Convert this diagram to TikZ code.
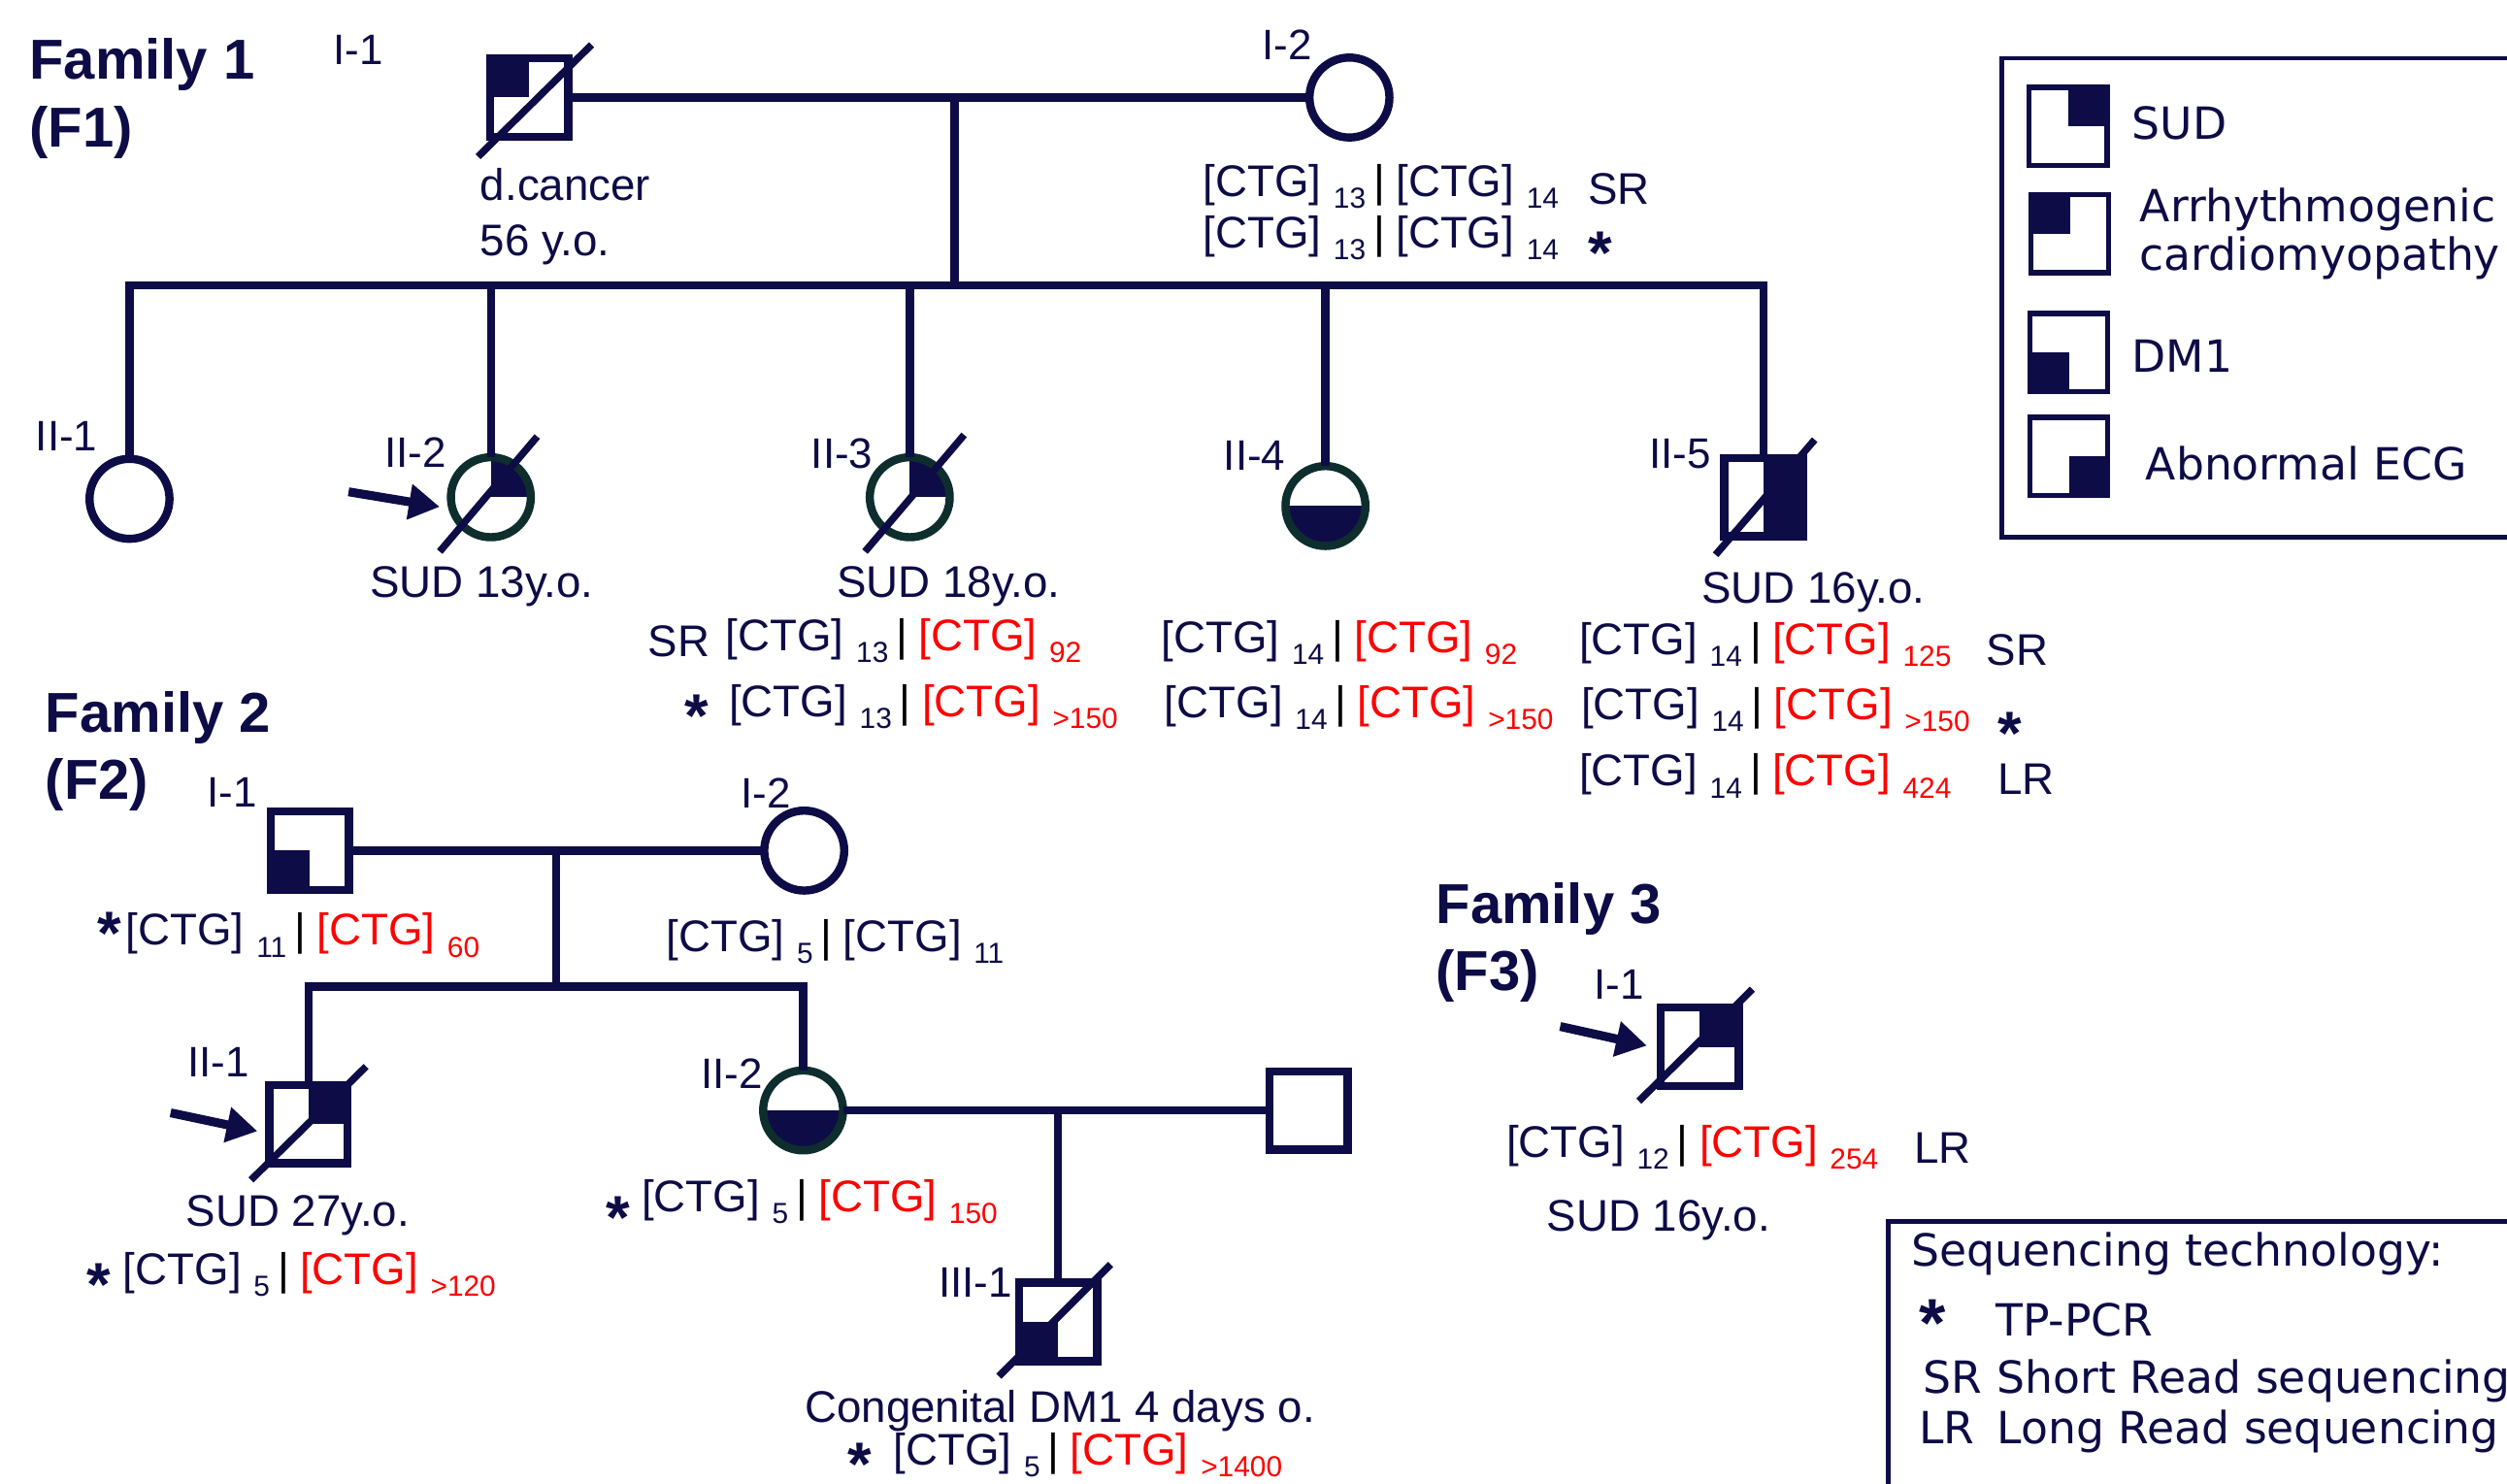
\documentclass[tikz,border=0pt]{standalone}
\usepackage{fontspec}
\setmainfont{Liberation Sans}
\newfontfamily\dvfont{DejaVu Sans}
\usetikzlibrary{arrows.meta,backgrounds}
\definecolor{navy}{RGB}{14,12,70}
\definecolor{tealdk}{RGB}{14,46,46}
\definecolor{ctgred}{RGB}{255,0,0}
\newcommand\sbx[1]{\raisebox{-3.5pt}{\fontsize{8.5}{9}\selectfont #1}}
\newcommand\ctg[1]{[CTG]\hspace{3.6pt}\sbx{#1}}
\newcommand\pairg[2]{\ctg{#1}\hspace{2.3pt}{\color{black}|}\hspace{3.2pt}{\color{ctgred}\ctg{#2}}}
\newcommand\pairn[2]{\ctg{#1}\hspace{2.3pt}{\color{black}|}\hspace{3.2pt}\ctg{#2}}
\newcommand\astx{\raisebox{-6.9pt}[5.2pt][0pt]{*}}
\newcommand\cq[3]{\begin{scope}\clip (#1.center) circle[radius=0.412cm];\fill[navy] (#2) rectangle (#3);\end{scope}}
\tikzset{
 ln/.style={draw=navy, line width=2.4pt},
 sq/.style={rectangle, draw=navy, line width=2.4pt, minimum size=0.807cm, inner sep=0pt, outer sep=0pt},
 ci/.style={circle, draw=navy, line width=2.4pt, minimum size=0.824cm, inner sep=0pt, outer sep=0pt},
 cit/.style={ci, draw=tealdk},
 lsq/.style={sq, line width=1.5pt, minimum size=0.804cm},
 dec/.style={draw=navy, line width=2.1pt},
 arr/.style={draw=navy, line width=2.6pt, -{Triangle[length=9pt,width=10pt]}},
 lbl/.style={anchor=base west, inner sep=0pt, text=navy, font=\fontsize{12.5}{14}\selectfont},
 txt/.style={anchor=base west, inner sep=0pt, text=navy, font=\fontsize{13}{15}\selectfont},
 fam/.style={anchor=base west, inner sep=0pt, text=navy, font=\fontsize{16.5}{19}\selectfont\bfseries},
 leg/.style={anchor=base west, inner sep=0pt, text=navy, font=\dvfont\fontsize{13}{15}\selectfont},
 star/.style={anchor=center, inner sep=0pt, text=navy, font=\fontsize{18}{18}\selectfont\bfseries},
 bigstar/.style={star, font=\fontsize{20}{20}\selectfont\bfseries},
 lbox/.style={draw=navy, line width=1.4pt},
}
\begin{document}
\begin{tikzpicture}[x=0.016473cm,y=-0.016473cm]
\useasboundingbox (0,0) rectangle (1568,927.6);
\clip (0,0) rectangle (1568,927.6);

% ---------------- Family 1 ----------------
\node[fam] (t1a) at (18,49.2) {Family 1};
\node[fam] (t1b) at (18,92) {(F1)};
\node[sq] (f1i1) at (331,61) {};
\node[ci] (f1i2) at (844,61) {};
\node[ci] (f1ii1) at (81,312) {};
\node[cit] (f1ii2) at (307,311) {};
\node[cit] (f1ii3) at (569,311) {};
\node[cit] (f1ii4) at (829,316.5) {};
\node[sq] (f1ii5) at (1103,311) {};
\coordinate (f1m) at (597,61);
\coordinate (f1s) at (597,178.5);
\draw[ln] (f1i1) -- (f1i2);
\draw[ln] (f1m) -- (f1s);
\draw[ln] (f1ii1) -- (f1ii1 |- f1s) -- (f1ii5 |- f1s) -- (f1ii5);
\draw[ln] (f1ii2 |- f1s) -- (f1ii2);
\draw[ln] (f1ii3 |- f1s) -- (f1ii3);
\draw[ln] (f1ii4 |- f1s) -- (f1ii4);
\draw[dec] ([shift={(-32,37)}]f1i1.center) -- ([shift={(39,-33)}]f1i1.center);
\draw[dec] ([shift={(-32,34)}]f1ii2.center) -- ([shift={(29,-38)}]f1ii2.center);
\draw[dec] ([shift={(-28,34)}]f1ii3.center) -- ([shift={(34,-39)}]f1ii3.center);
\draw[dec] ([shift={(-30,36)}]f1ii5.center) -- ([shift={(32,-36)}]f1ii5.center);
\coordinate (a1s) at (218,307.6);
\coordinate (a1e) at (275,317);
\draw[arr] (a1s) -- (a1e);

\node[lbl] (l1) at (208,40.5) {I-1};
\node[lbl] (l2) at (789,37.4) {I-2};
\node[lbl] (l3) at (22,281.7) {II-1};
\node[lbl] (l4) at (240,292.4) {II-2};
\node[lbl] (l5) at (507,292.6) {II-3};
\node[lbl] (l6) at (765,294.4) {II-4};
\node[lbl] (l7) at (1031,293) {II-5};

\node[txt] (dc1) at (300,125.5) {d.cancer};
\node[txt] (dc2) at (300,160) {56 y.o.};
\node[txt] (g12a) at (752,122.7) {\pairn{13}{14}};
\node[txt] (g12b) at (992.8,127.9) {SR};
\node[txt] (g12c) at (752,155.2) {\pairn{13}{14}};
\node[star] (s1) at (1000.7,151.2) {\astx};

\node[txt] (sud2) at (231,373.5) {SUD 13y.o.};
\node[txt] (sud3) at (523,373.5) {SUD 18y.o.};
\node[txt] (sud5) at (1064,377) {SUD 16y.o.};
\node[txt] (sr3) at (405,410.8) {SR};
\node[txt] (g3a) at (453.5,407) {\pairg{13}{92}};
\node[star] (s3) at (435.5,441) {\astx};
\node[txt] (g3b) at (455.6,448.2) {\pairg{13}{>150}};
\node[txt] (g4a) at (726,408) {\pairg{14}{92}};
\node[txt] (g4b) at (728,449) {\pairg{14}{>150}};
\node[txt] (g5a) at (987.4,409.2) {\pairg{14}{125}};
\node[txt] (sr5) at (1242,416) {SR};
\node[txt] (g5b) at (988.5,450) {\pairg{14}{>150}};
\node[star] (s5) at (1257,451.5) {\astx};
\node[txt] (g5c) at (987.4,491.7) {\pairg{14}{424}};
\node[txt] (lr5) at (1249,496.6) {LR};

% ---------------- Family 2 ----------------
\node[fam] (t2a) at (28,458) {Family 2};
\node[fam] (t2b) at (28,499.7) {(F2)};
\node[sq] (f2i1) at (193.7,532) {};
\node[ci] (f2i2) at (503,532) {};
\coordinate (f2m) at (348,532);
\coordinate (f2s) at (348,617);
\node[sq] (f2ii1) at (193,703) {};
\node[cit] (f2ii2) at (502.3,694.5) {};
\node[sq] (f2sp) at (818.4,694.5) {};
\coordinate (f2m2) at (661.7,694.5);
\node[sq] (f2iii1) at (661.7,826.8) {};
\draw[ln] (f2i1) -- (f2i2);
\draw[ln] (f2m) -- (f2s);
\draw[ln] (f2ii1) -- (f2ii1 |- f2s) -- (f2ii2 |- f2s) -- (f2ii2);
\draw[ln] (f2ii2) -- (f2sp);
\draw[ln] (f2m2) -- (f2iii1);
\draw[dec] ([shift={(-36,35)}]f2ii1.center) -- ([shift={(36,-36)}]f2ii1.center);
\draw[dec] ([shift={(-37,34)}]f2iii1.center) -- ([shift={(33,-36)}]f2iii1.center);
\coordinate (a2s) at (106.7,696);
\coordinate (a2e) at (161,707.5);
\draw[arr] (a2s) -- (a2e);

\node[lbl] (m1) at (129,505) {I-1};
\node[lbl] (m2) at (463,505.6) {I-2};
\node[lbl] (m3) at (116.8,673.8) {II-1};
\node[lbl] (m4) at (438,681) {II-2};
\node[lbl] (m5) at (586.8,811.4) {III-1};

\node[star] (s21) at (68.3,577) {\astx};
\node[txt] (h1) at (78.4,591.1) {\pairg{11}{60}};
\node[txt] (h2) at (416.4,595.2) {\pairn{5}{11}};
\node[txt] (sud21) at (116,767) {SUD 27y.o.};
\node[star] (s22) at (61.7,796.6) {\astx};
\node[txt] (h3) at (76.6,803.2) {\pairg{5}{>120}};
\node[star] (s23) at (386.8,754.8) {\astx};
\node[txt] (h4) at (401,758) {\pairg{5}{150}};
\node[txt] (cg) at (503,889.4) {Congenital DM1 4 days o.};
\node[star] (s24) at (537.6,909) {\astx};
\node[txt] (h5) at (558.4,916.2) {\pairg{5}{>1400}};

% ---------------- Family 3 ----------------
\node[fam] (t3a) at (897.8,577.7) {Family 3};
\node[fam] (t3b) at (897.8,619.7) {(F3)};
\node[sq] (f3i1) at (1063,654.7) {};
\draw[dec] ([shift={(-38,34)}]f3i1.center) -- ([shift={(33,-36)}]f3i1.center);
\coordinate (a3s) at (975.8,642);
\coordinate (a3e) at (1030,654);
\draw[arr] (a3s) -- (a3e);
\node[lbl] (n1) at (996.5,625) {I-1};
\node[txt] (k1) at (941.8,723.9) {\pairg{12}{254}};
\node[txt] (k2) at (1197,727.3) {LR};
\node[txt] (k3) at (967,770) {SUD 16y.o.};

% ---------------- Legends ----------------
\draw[lbox] (1252,36.4) rectangle (1620,336);
\node[lsq] (lg1) at (1293.4,79.1) {};
\node[lsq] (lg2) at (1294.6,146.2) {};
\node[lsq] (lg3) at (1294,220.4) {};
\node[lsq] (lg4) at (1294,285.5) {};
\node[leg] (lt1) at (1333,87) {SUD};
\node[leg] (lt2) at (1338,138.6) {Arrhythmogenic};
\node[leg] (lt3) at (1338,169) {cardiomyopathy};
\node[leg] (lt4) at (1333,233) {DM1};
\node[leg] (lt5) at (1341.6,300) {Abnormal ECG};

\draw[lbox] (1181,764) rectangle (1620,990);
\node[leg] (st0) at (1195,791.6) {Sequencing technology:};
\node[bigstar] (st1) at (1209,822.3) {\astx};
\node[leg] (st2) at (1247.8,835.7) {TP-PCR};
\node[leg] (st3) at (1202.6,871.6) {SR};
\node[leg] (st4) at (1248.7,871.6) {Short Read sequencing};
\node[leg] (st5) at (1200,903) {LR};
\node[leg] (st6) at (1248.7,903) {Long Read sequencing};

% ---------------- Fills (behind borders) ----------------
\begin{scope}[on background layer]
\fill[navy] (f1i1.center) rectangle (f1i1.north west);
\cq{f1ii2}{f1ii2.center}{f1ii2.north -| f1ii2.east}
\cq{f1ii3}{f1ii3.center}{f1ii3.north -| f1ii3.east}
\cq{f1ii4}{f1ii4.west}{f1ii4.south -| f1ii4.east}
\fill[navy] (f1ii5.north) rectangle (f1ii5.south east);
\fill[navy] (f2i1.center) rectangle (f2i1.south west);
\fill[navy] (f2ii1.center) rectangle (f2ii1.north east);
\cq{f2ii2}{f2ii2.west}{f2ii2.south -| f2ii2.east}
\fill[navy] (f2iii1.center) rectangle (f2iii1.south west);
\fill[navy] (f3i1.center) rectangle (f3i1.north east);
\fill[navy] (lg1.center) rectangle (lg1.north east);
\fill[navy] (lg2.center) rectangle (lg2.north west);
\fill[navy] (lg3.center) rectangle (lg3.south west);
\fill[navy] (lg4.center) rectangle (lg4.south east);
\end{scope}
\end{tikzpicture}
\end{document}
